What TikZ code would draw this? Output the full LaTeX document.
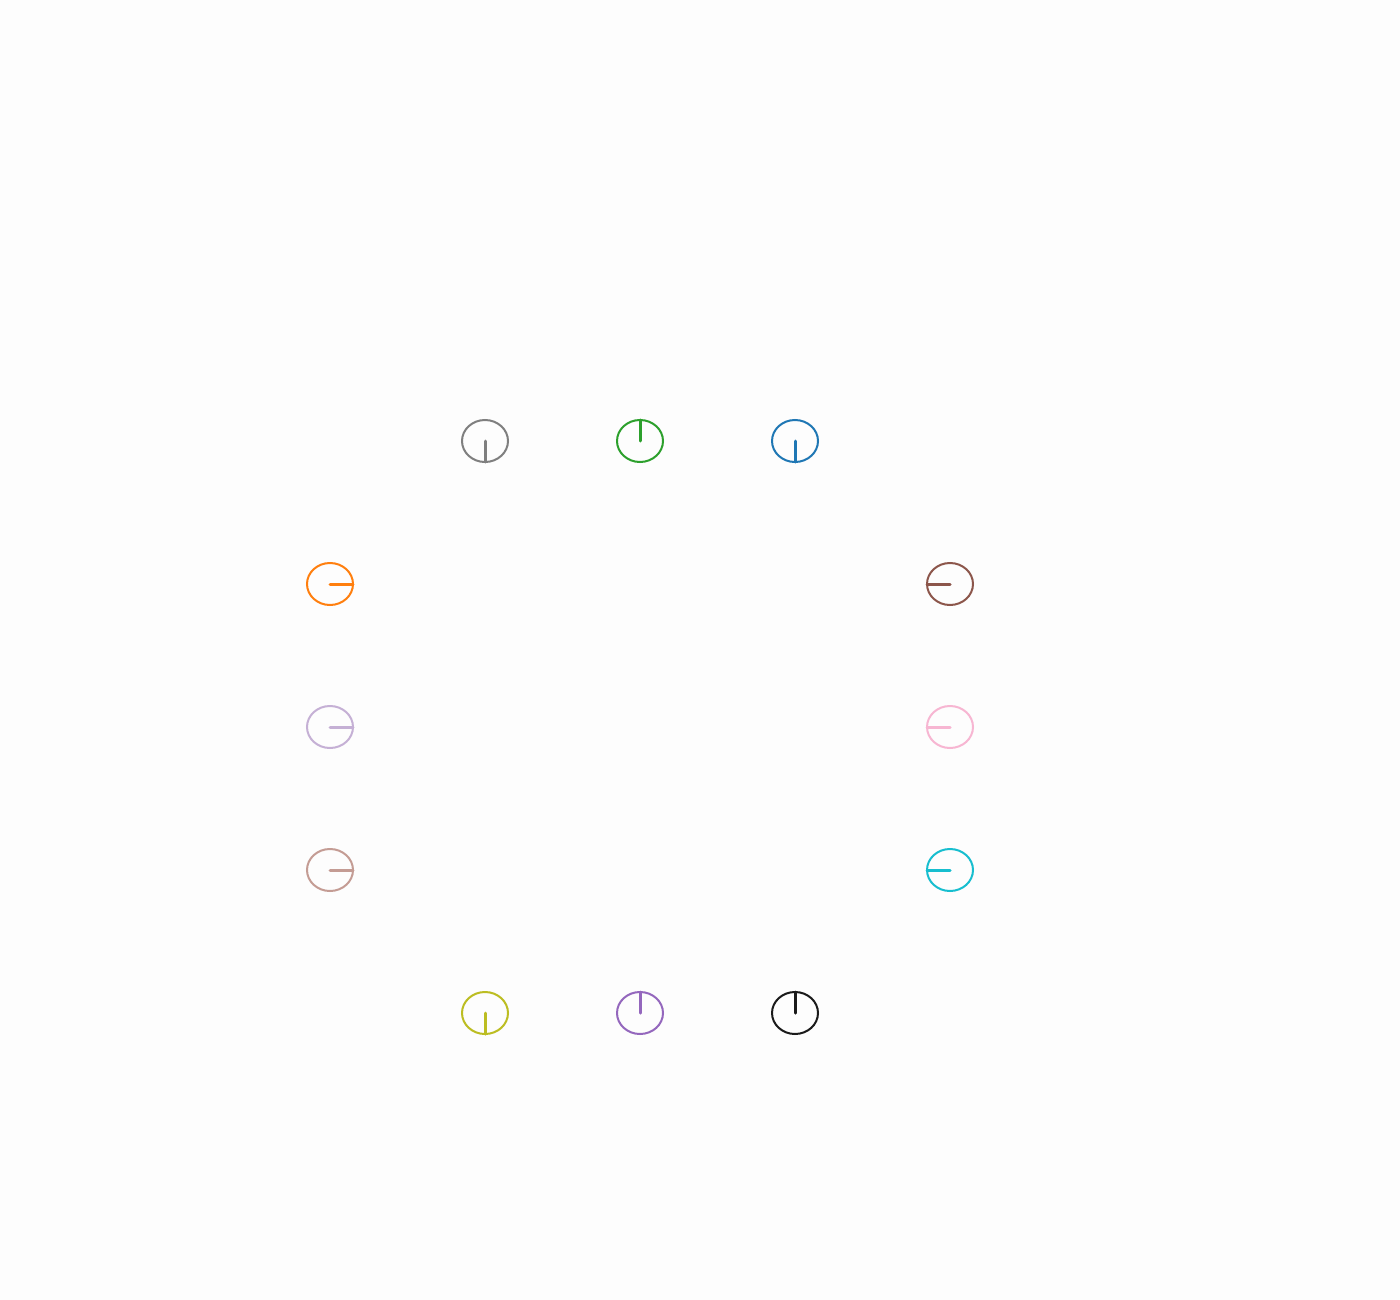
\documentclass[tikz,border=0pt]{standalone}
\usetikzlibrary{shapes.geometric}
\definecolor{bg}{RGB}{253,253,253}
\definecolor{cgray}{HTML}{7F7F7F}
\definecolor{cgreen}{HTML}{2CA02C}
\definecolor{cblue}{HTML}{1F77B4}
\definecolor{corange}{HTML}{FF7F0E}
\definecolor{clav}{HTML}{C5B0D5}
\definecolor{ctan}{HTML}{C49C94}
\definecolor{cbrown}{HTML}{8C564B}
\definecolor{cpink}{HTML}{F7B6D2}
\definecolor{ccyan}{HTML}{17BECF}
\definecolor{colive}{HTML}{BCBD22}
\definecolor{cpurple}{HTML}{9467BD}
\definecolor{cblack}{HTML}{1A1A1A}
\tikzset{
  dial/.style={ellipse, draw=#1, line width=2pt, minimum width=46pt, minimum height=42pt, inner sep=0pt, outer sep=0pt},
  hand/.style={draw=#1, line width=3pt, line cap=round}
}
\begin{document}
\begin{tikzpicture}[x=1pt,y=-1pt]
\fill[bg] (0,0) rectangle (1400,1300);
\useasboundingbox (0,0) rectangle (1400,1300);
\node[dial=cgray] (n1) at (485,441) {};
\node[dial=cgreen] (n2) at (640,441) {};
\node[dial=cblue] (n3) at (795,441) {};
\node[dial=corange] (n4) at (330,584) {};
\node[dial=clav] (n5) at (330,727) {};
\node[dial=ctan] (n6) at (330,870) {};
\node[dial=cbrown] (n7) at (950,584) {};
\node[dial=cpink] (n8) at (950,727) {};
\node[dial=ccyan] (n9) at (950,870) {};
\node[dial=colive] (n10) at (485,1013) {};
\node[dial=cpurple] (n11) at (640,1013) {};
\node[dial=cblack] (n12) at (795,1013) {};
\draw[hand=cgray] (n1.center) -- (n1.south);
\draw[hand=cgreen] (n2.center) -- (n2.north);
\draw[hand=cblue] (n3.center) -- (n3.south);
\draw[hand=corange] (n4.center) -- (n4.east);
\draw[hand=clav] (n5.center) -- (n5.east);
\draw[hand=ctan] (n6.center) -- (n6.east);
\draw[hand=cbrown] (n7.center) -- (n7.west);
\draw[hand=cpink] (n8.center) -- (n8.west);
\draw[hand=ccyan] (n9.center) -- (n9.west);
\draw[hand=colive] (n10.center) -- (n10.south);
\draw[hand=cpurple] (n11.center) -- (n11.north);
\draw[hand=cblack] (n12.center) -- (n12.north);
\end{tikzpicture}
\end{document}
